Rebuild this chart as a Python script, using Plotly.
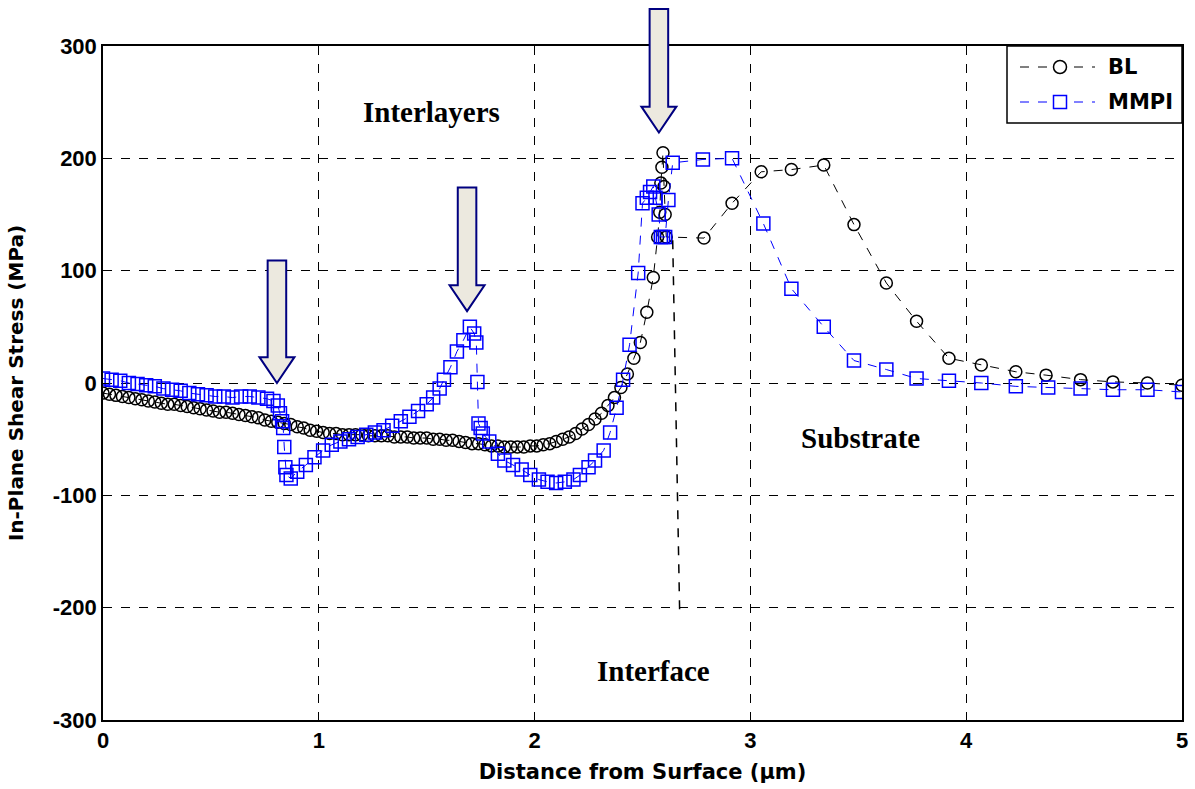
import plotly.graph_objects as go

# ---------------- data ----------------
bl_x = [0.00, 0.03, 0.06, 0.09, 0.12, 0.15, 0.18, 0.21, 0.24, 0.27, 0.30, 0.33, 0.36, 0.39,
        0.42, 0.45, 0.48, 0.51, 0.54, 0.57, 0.60, 0.63, 0.66, 0.69, 0.72, 0.75, 0.78, 0.81,
        0.84, 0.87, 0.90, 0.93, 0.96, 0.99, 1.02, 1.05, 1.08, 1.11, 1.14, 1.17, 1.20, 1.23,
        1.26, 1.29, 1.32, 1.35, 1.38, 1.41, 1.44, 1.47, 1.50, 1.53, 1.56, 1.59, 1.62, 1.65,
        1.68, 1.71, 1.74, 1.77, 1.80, 1.83, 1.86, 1.89, 1.92, 1.95, 1.98, 2.01, 2.04, 2.07,
        2.10, 2.13, 2.16, 2.19, 2.22, 2.25, 2.28, 2.31, 2.34, 2.37, 2.40, 2.43, 2.46, 2.49,
        2.52, 2.55, 2.57, 2.58, 2.585, 2.59, 2.595, 2.60, 2.605, 2.61, 2.785, 2.915, 3.05,
        3.19, 3.34, 3.48, 3.63, 3.77, 3.92, 4.07, 4.23, 4.37, 4.53, 4.68, 4.84, 5.00]
bl_y = [-9, -10, -11, -12, -13, -14, -15, -16, -17, -18, -19, -19, -20, -21,
        -22, -23, -24, -25, -26, -26, -27, -28, -29, -30, -31, -33, -34, -35,
        -36, -37, -39, -40, -42, -43, -44, -45, -45, -46, -46, -46, -46, -47,
        -47, -47, -47, -48, -48, -48, -49, -49, -49, -50, -50, -51, -51, -52,
        -53, -54, -54, -55, -56, -56, -57, -57, -57, -57, -56, -56, -55, -54,
        -52, -50, -48, -45, -41, -37, -32, -27, -20, -13, -4, 8, 22, 36,
        63, 94, 130, 152, 178, 192, 205, 175, 150, 130, 129, 160, 188,
        190, 194, 141, 89, 55, 22, 16, 10, 7, 3, 1, 0, -2]

mmpi_x = [0.00, 0.04, 0.08, 0.12, 0.16, 0.20, 0.24, 0.28, 0.32, 0.36, 0.40, 0.44, 0.48,
          0.52, 0.56, 0.60, 0.64, 0.68, 0.72, 0.76, 0.79, 0.81, 0.82, 0.83, 0.835, 0.84,
          0.845, 0.85, 0.87, 0.90, 0.94, 0.98, 1.02, 1.06, 1.10, 1.14, 1.18, 1.22, 1.26,
          1.30, 1.34, 1.38, 1.42, 1.46, 1.50, 1.53, 1.56, 1.58, 1.61, 1.64, 1.67, 1.70,
          1.72, 1.73, 1.735, 1.74, 1.75, 1.76, 1.79, 1.83, 1.86, 1.90, 1.94, 1.98, 2.02,
          2.06, 2.10, 2.14, 2.18, 2.21, 2.25, 2.28, 2.32, 2.35, 2.38, 2.41, 2.44, 2.48,
          2.50, 2.52, 2.535, 2.55, 2.56, 2.575, 2.585, 2.595, 2.605, 2.62, 2.64, 2.78,
          2.915, 3.06, 3.19, 3.34, 3.48, 3.63, 3.77, 3.92, 4.07, 4.23, 4.38, 4.53, 4.68,
          4.84, 5.00]
mmpi_y = [4, 3, 2, 0, -1, -2, -3, -5, -6, -7, -9, -10, -11,
          -12, -12, -13, -12, -12, -13, -14, -16, -20, -27, -34, -40, -57,
          -75, -82, -85, -79, -73, -66, -60, -55, -52, -50, -48, -46, -44,
          -42, -38, -34, -30, -25, -19, -13, -5, 3, 14, 28, 38, 50,
          44, 36, 1, -36, -40, -45, -52, -63, -69, -73, -77, -82, -86,
          -88, -89, -88, -86, -82, -75, -69, -60, -44, -22, 3, 34, 98,
          160, 165, 170, 175, 165, 150, 130, 130, 130, 163, 196, 199,
          200, 142, 84, 50, 20, 12, 4, 2, 0, -3, -4, -5, -6,
          -6, -8]

series_names = ["BL", "MMPI"]
series_colors = ["black", "#0000FF"]
series_symbols = ["circle", "square"]

x_ticks = [0, 1, 2, 3, 4, 5]
y_ticks = [-300, -200, -100, 0, 100, 200, 300]

region_labels = ["Interlayers", "Substrate", "Interface"]
region_x = [1.52, 3.51, 2.55]
region_y = [241, -49, -256]

# arrows: tip x, tip y, top y (data units)
arrow_tip_x = [0.806, 1.687, 2.576]
arrow_tip_y = [0, 64, 223]
arrow_top_y = [109, 174, 333]

W, H = 1195, 789
ML, MR, MT, MB = 103, 13, 46, 69
PW, PH = W - ML - MR, H - MT - MB
X0, X1, Y0, Y1 = 0, 5, -300, 300


def px(x):
    return (x - X0) / (X1 - X0)


def py(y):
    return (y - Y0) / (Y1 - Y0)


def ppx(p):  # screen pixel -> paper x
    return (p - ML) / PW


def ppy(p):  # screen pixel -> paper y
    return (H - MB - p) / PH


fig = go.Figure()
fig.add_trace(go.Scatter(
    x=bl_x, y=bl_y, mode="lines+markers", name=series_names[0], showlegend=False,
    line=dict(color=series_colors[0], width=1, dash="dash"),
    marker=dict(symbol="circle-open", size=12, color=series_colors[0],
                line=dict(width=1.5, color=series_colors[0])),
))
fig.add_trace(go.Scatter(
    x=mmpi_x, y=mmpi_y, mode="lines+markers", name=series_names[1], showlegend=False,
    line=dict(color=series_colors[1], width=1, dash="dash"),
    marker=dict(symbol="square-open", size=13, color=series_colors[1],
                line=dict(width=1.5, color=series_colors[1])),
))

# interface marker line
fig.add_shape(type="line", x0=2.64, y0=127, x1=2.672, y1=-202, xref="x", yref="y",
              line=dict(color="black", width=1.5, dash="dash"))

# block arrows
shaft_hw = 0.043
head_hw = 0.081
head_len = 23
for tx, ty, top in zip(arrow_tip_x, arrow_tip_y, arrow_top_y):
    hs = ty + head_len
    pts = [(tx - shaft_hw, top), (tx + shaft_hw, top), (tx + shaft_hw, hs), (tx + head_hw, hs),
           (tx, ty), (tx - head_hw, hs), (tx - shaft_hw, hs)]
    path = "M " + " L ".join(f"{px(a):.5f},{py(b):.5f}" for a, b in pts) + " Z"
    fig.add_shape(type="path", path=path, xref="paper", yref="paper",
                  fillcolor="#ECE9DF", line=dict(color="#000080", width=2), layer="above")

for t, x, y in zip(region_labels, region_x, region_y):
    fig.add_annotation(x=x, y=y, text=f"<b>{t}</b>", showarrow=False, xref="x", yref="y",
                       font=dict(family="Liberation Serif, Times New Roman, serif", size=29, color="black"))

# ---- hand-drawn legend box (MATLAB style) ----
leg_l, leg_r, leg_t, leg_b = 1007, 1182, 46, 123
fig.add_shape(type="rect", xref="paper", yref="paper",
              x0=ppx(leg_l), x1=ppx(leg_r), y0=ppy(leg_b), y1=ppy(leg_t),
              fillcolor="white", line=dict(color="black", width=1.5), layer="above")
row_y = [67, 102]
for name, col, sym, ry in zip(series_names, series_colors, series_symbols, row_y):
    fig.add_shape(type="line", xref="paper", yref="paper",
                  x0=ppx(1020), x1=ppx(1095), y0=ppy(ry), y1=ppy(ry),
                  line=dict(color=col, width=1, dash="dash"), layer="above")
    r = 6.5
    fig.add_shape(type="circle" if sym == "circle" else "rect", xref="paper", yref="paper",
                  x0=ppx(1060 - r), x1=ppx(1060 + r), y0=ppy(ry + r), y1=ppy(ry - r),
                  fillcolor="white", line=dict(color=col, width=1.5), layer="above")
    fig.add_annotation(xref="paper", yref="paper", x=ppx(1106), y=ppy(ry), xanchor="left",
                       yanchor="middle", text=f"<b>{name}</b>", showarrow=False,
                       font=dict(family="DejaVu Sans, Verdana, sans-serif", size=21, color="black"))

axis_common = dict(
    showline=True, linecolor="black", linewidth=1.5, mirror=True,
    ticks="inside", ticklen=6, tickcolor="black",
    showgrid=True, gridcolor="black", gridwidth=1, griddash="dash",
    zeroline=False, automargin=False,
    tickfont=dict(family="Liberation Sans, Arial, sans-serif", size=22, color="black", weight="bold"),
)

fig.update_xaxes(range=[X0, X1], tickvals=x_ticks, ticktext=[str(v) for v in x_ticks],
                 title=dict(text="Distance from Surface (μm)", standoff=12,
                            font=dict(family="DejaVu Sans, Verdana, sans-serif", size=21,
                                      color="black", weight="bold")),
                 **axis_common)
fig.update_yaxes(range=[Y0, Y1], tickvals=y_ticks, ticktext=[str(v) for v in y_ticks],
                 title=dict(text="In-Plane Shear Stress (MPa)", standoff=24,
                            font=dict(family="DejaVu Sans, Verdana, sans-serif",
                                      size=20, color="black", weight="bold")),
                 **axis_common)

fig.update_layout(
    width=W, height=H,
    margin=dict(l=ML, r=MR, t=MT, b=MB, autoexpand=False),
    plot_bgcolor="white", paper_bgcolor="white",
    showlegend=False,
)

fig.write_html("out.html")
